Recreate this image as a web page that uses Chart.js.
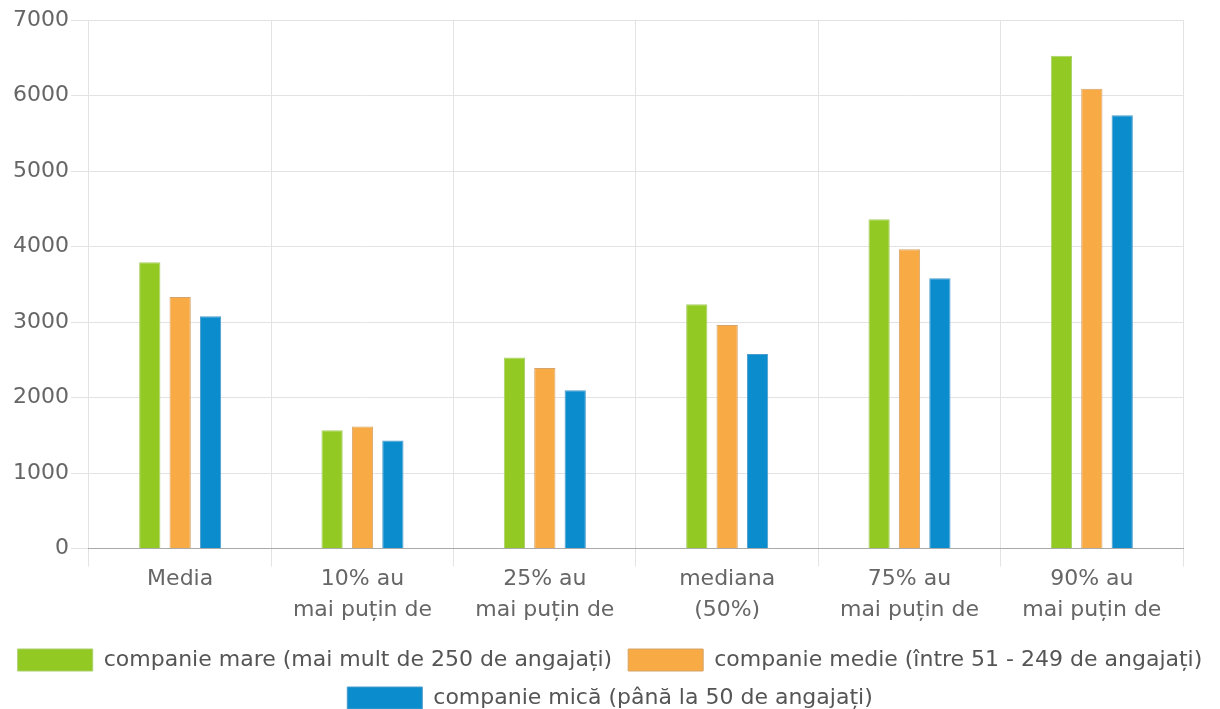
<!DOCTYPE html>
<html>
<head>
<meta charset="utf-8">
<script src="https://cdn.jsdelivr.net/npm/chart.js@4/dist/chart.umd.min.js"></script>
<style>
  html, body { margin: 0; padding: 0; background: #fff; }
  #wrap { width: 1220px; height: 709px; }
</style>
</head>
<body>
<div id="wrap"><canvas id="myChart" width="1220" height="709"></canvas></div>
<script>
var categories = ["Media", ["10% au", "mai puțin de"], ["25% au", "mai puțin de"], ["mediana", "(50%)"], ["75% au", "mai puțin de"], ["90% au", "mai puțin de"]];
var mare = [3790, 1565, 2530, 3235, 4360, 6525];
var medie = [3330, 1615, 2390, 2960, 3965, 6090];
var mica = [3075, 1430, 2095, 2575, 3580, 5740];
var yTicks = [0, 1000, 2000, 3000, 4000, 5000, 6000, 7000];

var font = "'DejaVu Sans', Verdana, sans-serif";

var ctx = document.getElementById("myChart").getContext("2d");

var chart = new Chart(ctx, {
  type: "bar",
  data: {
    labels: categories,
    datasets: [
      { label: "companie mare (mai mult de 250 de angajați)", data: mare,
        backgroundColor: "#92c922", borderColor: "#a9cf6a", borderWidth: 1 },
      { label: "companie medie (între 51 - 249 de angajați)", data: medie,
        backgroundColor: "#f8aa45", borderColor: "#d6a46a", borderWidth: 1 },
      { label: "companie mică (până la 50 de angajați)", data: mica,
        backgroundColor: "#0b8ccd", borderColor: "#4a9ccc", borderWidth: 1 }
    ]
  },
  options: {
    responsive: false,
    animation: false,
    categoryPercentage: 0.5,
    barPercentage: 0.7,
    layout: { padding: { top: 20, right: 0, left: 0, bottom: -10 } },
    plugins: {
      tooltip: { enabled: false },
      legend: {
        position: "bottom",
        labels: {
          boxWidth: 75,
          boxHeight: 22,
          padding: 16,
          color: "#555",
          font: { family: font, size: 22 }
        }
      }
    },
    scales: {
      x: {
        grid: {
          color: function (c) { return c.index === categories.length ? "rgba(0,0,0,0)" : "#e3e3e3"; },
          tickLength: 18, offset: true
        },
        border: { color: "#aaaaaa" },
        ticks: { color: "#666", padding: -3, maxRotation: 0, autoSkip: false,
                 font: { family: font, size: 22, lineHeight: 1.42 } },
        afterFit: function (s) { s.height += 10; }
      },
      y: {
        min: 0,
        max: 7000,
        afterBuildTicks: function (axis) {
          axis.ticks = yTicks.map(function (v) { return { value: v }; });
        },
        grid: { color: "#e3e3e3", tickLength: 18 },
        border: { display: false },
        ticks: { color: "#666", padding: 2, font: { family: font, size: 22 },
                 callback: function (v) { return String(v); } },
        afterFit: function (s) { s.width += 11; }
      },
      // empty right axis, only keeps the plot clear of the right edge
      yRight: {
        position: "right",
        display: true,
        grid: { display: false },
        border: { display: false },
        ticks: { display: false },
        afterFit: function (s) { s.width = 37; }
      }
    }
  }
});
</script>
</body>
</html>
